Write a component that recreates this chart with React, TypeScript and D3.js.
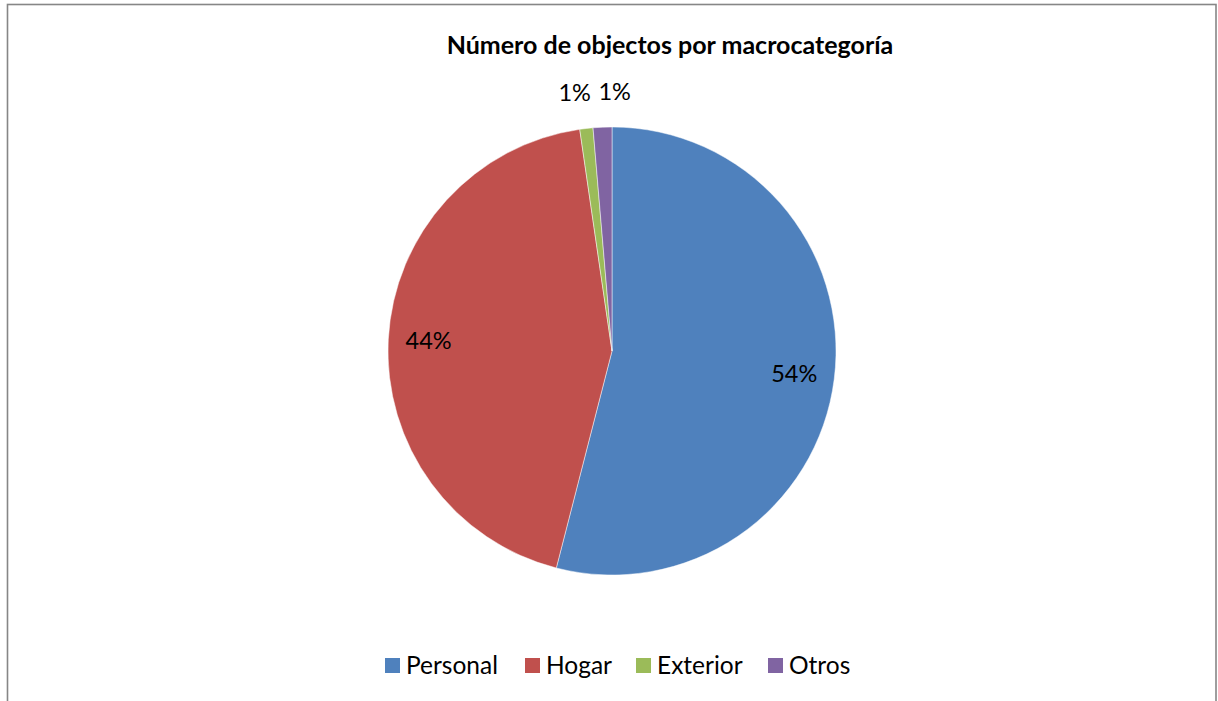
import React from "react";
import * as d3 from "d3";

const categories = ["Personal", "Hogar", "Exterior", "Otros"];
const values = [54.0, 43.7, 0.95, 1.35];
const colors = ["#4F81BD", "#C0504D", "#9BBB59", "#8064A2"];
const title = "Número de objectos por macrocategoría";

const W = 1218;
const H = 701;
const cx = 612;
const cy = 351;
const R = 224;
const FONT = "Lato, 'Open Sans', sans-serif";

export default function App() {
  const total = d3.sum(values);
  const pie = d3.pie<number>().sort(null).value((d) => d)(values);
  const arc = d3.arc<d3.PieArcDatum<number>>().innerRadius(0).outerRadius(R);
  const pct = (v: number) => `${Math.round((v / total) * 100)}%`;

  const labels = pie.map((p, i) => {
    const frac = (p.endAngle - p.startAngle) / (2 * Math.PI);
    const small = frac < 0.05;
    const r = small ? R * 1.16 : R * 0.82;
    const a = (p.startAngle + p.endAngle) / 2;
    return { i, small, x: cx + r * Math.sin(a), y: cy - r * Math.cos(a), text: pct(values[i]) };
  });
  const smalls = labels.filter((l) => l.small);
  if (smalls.length > 1) {
    const mean = d3.mean(smalls, (l) => l.x) as number;
    const gap = 40;
    smalls.forEach((l, k) => {
      l.x = mean + 3 + (k - (smalls.length - 1) / 2) * gap;
    });
  }

  const legendX = [385, 525, 636, 768];

  return (
    <svg
      width={W}
      height={H}
      style={{ position: "absolute", left: 0, top: 0, background: "#fff" }}
    >
      <rect x={7.5} y={4.5} width={1208.5} height={720} fill="#fff" stroke="#868686" strokeWidth={1.6} />
      <text
        x={670}
        y={54}
        textAnchor="middle"
        fontFamily={FONT}
        fontWeight={700}
        fontSize={25}
        fill="#000"
      >
        {title}
      </text>
      <g transform={`translate(${cx},${cy})`}>
        {pie.map((p, i) => (
          <path key={i} d={arc(p) || ""} fill={colors[i]} stroke="#fff" strokeOpacity={0.6} strokeWidth={0.8} />
        ))}
      </g>
      {labels.map((l) => (
        <text
          key={l.i}
          x={l.x}
          y={l.y}
          dy="0.35em"
          textAnchor="middle"
          fontFamily={FONT}
          fontSize={23.5}
          fill="#000"
        >
          {l.text}
        </text>
      ))}
      <g>
        {categories.map((c, i) => (
          <g key={c} transform={`translate(${legendX[i]},658)`}>
            <rect x={0} y={0} width={15} height={15} fill={colors[i]} />
            <text x={21} y={15.5} fontFamily={FONT} fontSize={24.5} fill="#000">
              {c}
            </text>
          </g>
        ))}
      </g>
    </svg>
  );
}
